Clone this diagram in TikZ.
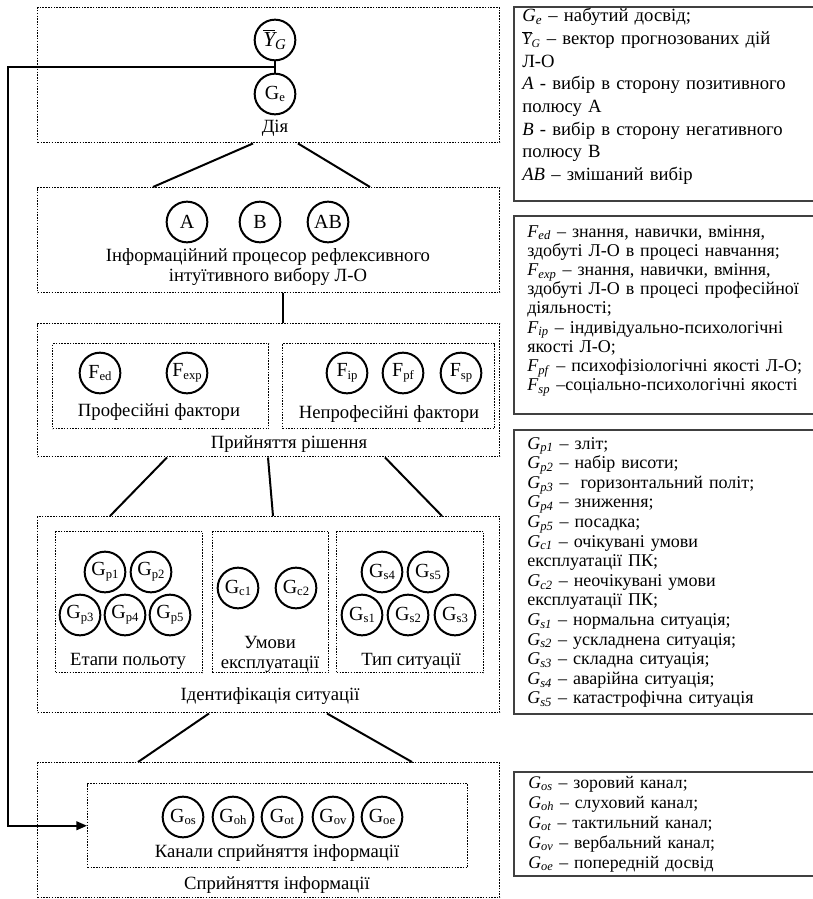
\documentclass[tikz,border=0pt]{standalone}
\usepackage{fontspec}
\setmainfont{Liberation Serif}
\usetikzlibrary{arrows.meta,calc}

% subscripted label inside a circle
\newcommand\subl[2]{#1\raisebox{-0.3ex}{\fontsize{9.5}{9.5}\selectfont #2}}
% italic variable with italic subscript for the legends
\newcommand\ivar[2]{\textit{#1}\textsubscript{\textit{#2}}}
\newcommand\ybar{$\overline{\mathit{Y}}_{\mathit{G}}$}

\begin{document}
\begin{tikzpicture}[x=0.75pt,y=-0.75pt,
  grp/.style={draw, line width=1.1pt, dash pattern=on 1.1pt off 1.0pt,
              rectangle, anchor=north west, inner sep=0pt},
  legbox/.style={draw=black!75, line width=1.2pt, rectangle,
              anchor=north west, inner sep=0pt},
  circ/.style={draw, circle, line width=1.5pt, minimum size=30.5pt,
              inner sep=0pt, font=\fontsize{15}{16}\selectfont},
  lbl/.style={font=\fontsize{14}{15}\selectfont, align=center, inner sep=0pt},
  conn/.style={line width=1.5pt},
  legtext/.style={anchor=base west, inner sep=0pt, align=left,
              text width=281*0.75pt},
]
\useasboundingbox (0,0) rectangle (813,899);
\fill[white] (0,0) rectangle (813,899);

% ---------- group boxes ----------
\node[grp, minimum width=462*0.75pt, minimum height=135*0.75pt] (act) at (37,7) {};
\node[grp, minimum width=462*0.75pt, minimum height=105*0.75pt] (proc) at (37,187) {};
\node[grp, minimum width=462*0.75pt, minimum height=133*0.75pt] (dec) at (37,323) {};
\node[grp, minimum width=216*0.75pt, minimum height=85*0.75pt] (prof) at (52,343) {};
\node[grp, minimum width=212*0.75pt, minimum height=85*0.75pt] (nprof) at (282,343) {};
\node[grp, minimum width=462*0.75pt, minimum height=196*0.75pt] (ident) at (37,516) {};
\node[grp, minimum width=147*0.75pt, minimum height=141*0.75pt] (stage) at (55,531) {};
\node[grp, minimum width=116*0.75pt, minimum height=141*0.75pt] (cond) at (212,531) {};
\node[grp, minimum width=147*0.75pt, minimum height=141*0.75pt] (stype) at (336,531) {};
\node[grp, minimum width=462*0.75pt, minimum height=135*0.75pt] (perc) at (37,762) {};
\node[grp, minimum width=380*0.75pt, minimum height=84*0.75pt] (chan) at (87,783) {};

% ---------- action ----------
\node[circ] (yg) at (275,40) {\fontsize{16}{16}\selectfont\ybar};
\node[circ] (ge) at (275,94) {\subl{G}{e}};
\node[lbl] at (275,128) {Дія};
\draw[conn] (yg) -- (ge);
\coordinate (jn) at ($(yg.south)!0.5!(ge.north)$);

% ---------- information processor ----------
\node[circ] (ca) at (187,222) {A};
\node[circ] (cb) at (260,222) {B};
\node[circ] (cab) at (328,222) {AB};
\node[lbl] at (268,267) {Інформаційний процесор рефлексивного\\інтуїтивного вибору Л-О};

% ---------- decision ----------
\node[circ] (fed) at (100,373) {\subl{F}{ed}};
\node[circ] (fexp) at (187,373) {\subl{F}{exp}};
\node[lbl] at (159,412) {Професійні фактори};
\node[circ] (fip) at (347,373) {\subl{F}{ip}};
\node[circ] (fpf) at (403,373) {\subl{F}{pf}};
\node[circ] (fsp) at (461,373) {\subl{F}{sp}};
\node[lbl] at (389,414) {Непрофесійні фактори};
\node[lbl] at (289,444) {Прийняття рішення};

% ---------- situation identification ----------
\node[circ] (gp1) at (105,572) {\subl{G}{p1}};
\node[circ] (gp2) at (151,572) {\subl{G}{p2}};
\node[circ] (gp3) at (80,615) {\subl{G}{p3}};
\node[circ] (gp4) at (125,615) {\subl{G}{p4}};
\node[circ] (gp5) at (170,615) {\subl{G}{p5}};
\node[lbl] at (128,661) {Етапи польоту};
\node[circ] (gc1) at (238,588) {\subl{G}{c1}};
\node[circ] (gc2) at (296,588) {\subl{G}{c2}};
\node[lbl] at (270,654) {Умови\\експлуатації};
\node[circ] (gs4) at (382,572) {\subl{G}{s4}};
\node[circ] (gs5) at (428,572) {\subl{G}{s5}};
\node[circ] (gs1) at (362,615) {\subl{G}{s1}};
\node[circ] (gs2) at (408,615) {\subl{G}{s2}};
\node[circ] (gs3) at (455,615) {\subl{G}{s3}};
\node[lbl] at (411,661) {Тип ситуації};
\node[lbl] at (270,696) {Ідентифікація ситуації};

% ---------- perception ----------
\node[circ] (gos) at (183,817) {\subl{G}{os}};
\node[circ] (goh) at (233,817) {\subl{G}{oh}};
\node[circ] (got) at (282,817) {\subl{G}{ot}};
\node[circ] (gov) at (333,817) {\subl{G}{ov}};
\node[circ] (goe) at (382,817) {\subl{G}{oe}};
\node[lbl] at (277,853) {Канали сприйняття інформації};
\node[lbl] at (277,885) {Сприйняття інформації};

% ---------- connectors between stages ----------
\draw[conn] ($(act.south west)+(216,0)$) -- ($(proc.north west)+(116,0)$);
\draw[conn] ($(act.south west)+(261,0)$) -- ($(proc.north west)+(333,0)$);
\draw[conn] ($(proc.south west)+(246,0)$) -- ($(dec.north west)+(246,0)$);
\draw[conn] ($(dec.south west)+(130,0)$) -- ($(ident.north west)+(73,0)$);
\draw[conn] ($(dec.south west)+(231,0)$) -- ($(ident.north west)+(236,0)$);
\draw[conn] ($(dec.south west)+(348,0)$) -- ($(ident.north west)+(405,0)$);
\draw[conn] ($(ident.south west)+(172,0)$) -- ($(perc.north west)+(101,0)$);
\draw[conn] ($(ident.south west)+(290,0)$) -- ($(perc.north west)+(375,0)$);

% ---------- feedback loop ----------
\coordinate (lft) at (8,68);
\draw[conn, -{Triangle[length=8pt,width=6.5pt]}] (jn) -- (lft |- jn) |- (chan.west);

% ---------- legends ----------
\node[legbox, minimum width=300*0.75pt, minimum height=194*0.75pt] (leg1) at (513,6) {};
\node[legtext, text width=287*0.75pt, font=\fontsize{14}{17}\selectfont] at (522,22) {%
\ivar{G}{e} – набутий досвід;\\
{\fontsize{12.5}{12.5}\selectfont\ybar} – вектор прогнозованих дій\\
Л-О\\
\textit{A} - вибір в сторону позитивного\\
полюсу А\\
\textit{B} - вибір в сторону негативного\\
полюсу В\\
\textit{AB} – змішаний вибір};

\node[legbox, minimum width=300*0.75pt, minimum height=198*0.75pt] (leg2) at (513,215) {};
\node[legtext, font=\fontsize{13.5}{14.4}\selectfont] at (527,237) {%
\makebox[\linewidth][s]{\ivar{F}{ed} – знання, навички, вміння,}\\
здобуті Л-О в процесі навчання;\\
\makebox[\linewidth][s]{\ivar{F}{exp} – знання, навички, вміння,}\\
\makebox[\linewidth][s]{здобуті Л-О в процесі професійної}\\
діяльності;\\
\makebox[\linewidth][s]{\ivar{F}{ip} – індивідуально-психологічні}\\
якості Л-О;\\
\ivar{F}{pf} – психофізіологічні якості Л-О;\\
\ivar{F}{sp} –соціально-психологічні якості};

\node[legbox, minimum width=300*0.75pt, minimum height=284*0.75pt] (leg3) at (513,429) {};
\node[legtext, font=\fontsize{13.5}{14.7}\selectfont] at (527,449) {%
\ivar{G}{p1} – зліт;\\
\ivar{G}{p2} – набір висоти;\\
\ivar{G}{p3} – \ горизонтальний політ;\\
\ivar{G}{p4} – зниження;\\
\ivar{G}{p5} – посадка;\\
\ivar{G}{c1} – очікувані умови\\
експлуатації ПК;\\
\makebox[\linewidth][s]{\ivar{G}{c2} – неочікувані умови}\\
експлуатації ПК;\\
\ivar{G}{s1} – нормальна ситуація;\\
\ivar{G}{s2} – ускладнена ситуація;\\
\ivar{G}{s3} – складна ситуація;\\
\ivar{G}{s4} – аварійна ситуація;\\
\ivar{G}{s5} – катастрофічна ситуація};

\node[legbox, minimum width=300*0.75pt, minimum height=104*0.75pt] (leg4) at (513,771) {};
\node[legtext, font=\fontsize{13.3}{15}\selectfont] at (528,788) {%
\ivar{G}{os} – зоровий канал;\\
\ivar{G}{oh} – слуховий канал;\\
\ivar{G}{ot} – тактильний канал;\\
\ivar{G}{ov} – вербальний канал;\\
\ivar{G}{oe} – попередній досвід};
\end{tikzpicture}
\end{document}
